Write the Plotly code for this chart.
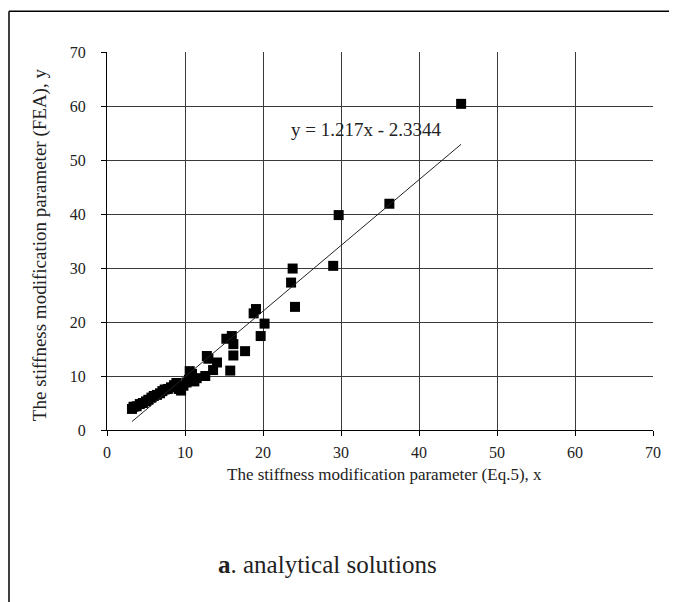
import plotly.graph_objects as go

# Data (x = Eq.5, y = FEA)
x_eq5 = [3.2, 3.4, 3.8, 4.2, 4.6, 5.0, 5.3, 5.7, 6.0, 6.4, 6.8, 7.1, 7.4, 7.8,
         8.2, 8.6, 8.9, 9.2, 9.5, 9.8, 10.2, 10.5, 10.6, 10.9, 11.2, 11.5,
         12.6, 12.8, 13.0, 13.6, 14.1, 15.3, 15.8, 16.0, 16.2, 16.2, 17.7,
         18.8, 19.1, 19.7, 20.2, 23.6, 23.8, 24.1, 29.0, 29.7, 36.2, 45.4]
y_fea = [3.9, 4.3, 4.4, 4.8, 5.0, 5.3, 5.6, 6.0, 6.3, 6.5, 6.8, 7.2, 7.5, 7.6,
         7.9, 8.3, 8.7, 7.6, 7.3, 8.2, 8.8, 9.3, 10.9, 10.4, 9.0, 9.6,
         10.0, 13.7, 13.2, 11.1, 12.5, 16.9, 11.0, 17.4, 15.9, 13.8, 14.6,
         21.6, 22.4, 17.4, 19.7, 27.3, 29.9, 22.8, 30.4, 39.8, 41.9, 60.4]

# Linear trend line as printed on the chart
slope = 1.217
intercept = -2.3344
trend_x = [min(x_eq5), max(x_eq5)]
trend_y = [slope * v + intercept for v in trend_x]

tick_vals = [0, 10, 20, 30, 40, 50, 60, 70]

FONT = "Liberation Serif"

fig = go.Figure()
fig.add_trace(go.Scatter(
    x=x_eq5, y=y_fea, mode="markers",
    marker=dict(symbol="square", size=10, color="black", line=dict(width=0)),
    showlegend=False, hoverinfo="x+y"))
fig.add_trace(go.Scatter(
    x=trend_x, y=trend_y, mode="lines",
    line=dict(color="#222222", width=1),
    showlegend=False, hoverinfo="skip"))

axis_common = dict(
    range=[0, 70], tickvals=tick_vals, showgrid=True, gridcolor="#3a3a3a",
    gridwidth=1, zeroline=False, showline=True, linecolor="black", linewidth=1,
    ticks="outside", ticklen=5, tickcolor="black",
    tickfont=dict(family=FONT, size=16, color="#222222"))

fig.update_xaxes(**axis_common, ticklabelstandoff=3)
fig.update_yaxes(**axis_common, ticklabelstandoff=12)

# frame of the original figure panel (left and top edges)
fig.add_shape(type="line", xref="paper", yref="paper",
              x0=-0.1795, x1=-0.1795, y0=1.108, y1=-0.46,
              line=dict(color="black", width=1.5))
fig.add_shape(type="line", xref="paper", yref="paper",
              x0=-0.1795, x1=1.05, y0=1.108, y1=1.108,
              line=dict(color="black", width=1.5))

fig.update_layout(
    width=669, height=594,
    margin=dict(l=99, r=24, t=44, b=172),
    paper_bgcolor="white", plot_bgcolor="white",
    font=dict(family=FONT, color="#222222"),
    annotations=[
        dict(text="y = 1.217x - 2.3344", x=33.3, y=55.6, xref="x", yref="y",
             showarrow=False, font=dict(family=FONT, size=19, color="#222222")),
        dict(text="The stiffness modification parameter (Eq.5), x",
             x=0.509, y=-0.118, xref="paper", yref="paper", showarrow=False,
             xanchor="center", yanchor="middle",
             font=dict(family=FONT, size=17, color="#222222")),
        dict(text="The stiffness modification parameter (FEA), y",
             x=-0.1227, y=0.489, xref="paper", yref="paper", showarrow=False,
             textangle=-90, xanchor="center", yanchor="middle",
             font=dict(family=FONT, size=19, color="#222222")),
        dict(text="<b>a</b>. analytical solutions",
             x=0.403, y=-0.357, xref="paper", yref="paper", showarrow=False,
             xanchor="center", yanchor="middle",
             font=dict(family=FONT, size=25, color="#222222")),
    ],
)

fig.write_html("out.html")
